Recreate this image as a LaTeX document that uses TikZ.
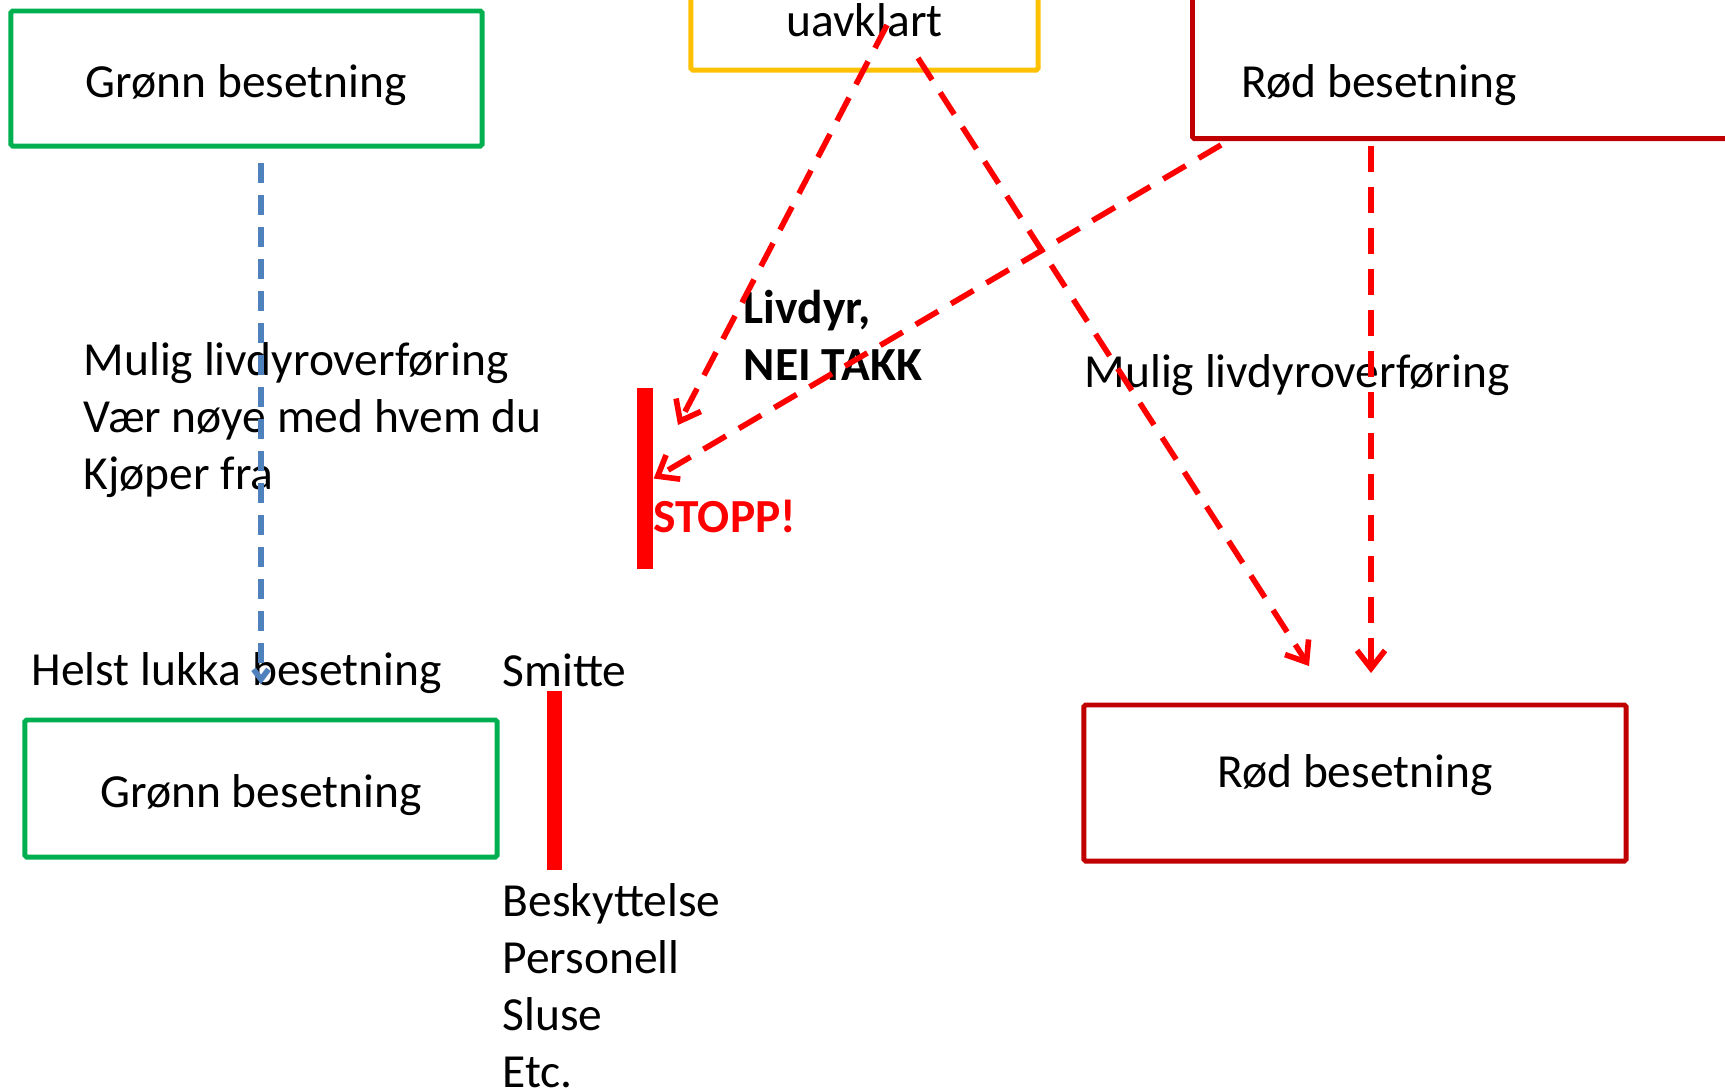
\documentclass[tikz,border=0pt]{standalone}
\usepackage{fontspec}
\setmainfont{Carlito}
\usepackage{tikz}
\usetikzlibrary{arrows.meta}
\usetikzlibrary{positioning}
\definecolor{gronn}{HTML}{00B050}
\definecolor{gul}{HTML}{FFC000}
\definecolor{morkrod}{HTML}{C00000}
\definecolor{rod}{HTML}{FF0000}
\definecolor{blaa}{HTML}{4F81BD}

\begin{document}
\begin{tikzpicture}[x=0.01cm,y=-0.01cm,font=\fontsize{13.5}{16.2}\selectfont,
	box/.style={draw,line width=1.4pt,rounded corners=0.5pt,inner sep=0pt},
	green box/.style={box,draw=gronn,minimum width=4.71cm,minimum height=1.35cm,
		text height=0.375cm,text depth=0pt},
	red box/.style={box,draw=morkrod},
	text node/.style={inner sep=0pt,anchor=west,align=left},
	bar/.style={fill=rod,inner sep=0pt,minimum width=0.16cm},
	red arrow/.style={draw=rod,line width=1.6pt,dash pattern=on 0.26cm off 0.15cm,
		-{Straight Barb[length=0.18cm,width=0.28cm]}},
	blue arrow/.style={draw=blaa,line width=1.6pt,dash pattern=on 0.2cm off 0.12cm,
		-{Straight Barb[length=0.1cm,width=0.15cm]}}]

	\clip (0,0) rectangle (1725,1090);

	% besetninger
	\node[green box] (gronnA) at (246.5,78.5) {Grønn besetning};
	\node[box,draw=gul,minimum width=3.47cm,minimum height=1cm] (uavklart) at (864.5,20) {uavklart};
	\node[red box,minimum width=7cm,minimum height=2.5cm,anchor=south west] (rodA) at (1190,141) {};
	\node[text node] (rodAtekst) at (1241,85) {Rød besetning};
	\node[green box,minimum width=4.72cm,minimum height=1.37cm] (gronnB) at (261,788.5) {Grønn besetning};
	\node[red box,minimum width=5.42cm,minimum height=1.56cm,text height=0.25cm,text depth=0.165cm] (rodB) at (1355,783) {Rød besetning};

	% sperrer
	\node[bar,minimum height=1.81cm] (stopp) at (645,478.5) {};
	\node[bar,minimum width=0.15cm,minimum height=1.79cm] (smittebar) at (554,780.5) {};

	\node[text node] (mulig) at (83,420) {Mulig livdyroverføring\\Vær nøye med hvem du\\Kjøper fra};
	\node[text node] (helst) at (31,673) {Helst lukka besetning};
	\node[text node] (smitte) at (502,670) {Smitte};
	\node[text node] (tiltak) at (502,986) {Beskyttelse\\Personell\\Sluse\\Etc.};
	\node[text node,font=\fontsize{13.5}{16.2}\selectfont\bfseries] (livdyr) at (743,335) {Livdyr,\\NEI TAKK};
	\node[text node,text=rod,font=\fontsize{13.5}{16.2}\selectfont\bfseries] (stopptekst) at (653,516) {STOPP!};
	\node[text node] (mulig2) at (1084,375) {Mulig livdyroverføring};

	\coordinate (gulV) at (887,25);
	\coordinate (pilV) at (678,425);
	\coordinate (gulH) at (918,58);
	\coordinate (pilH) at (1309,666);
	\coordinate (rodAV) at (1221,145);
	\coordinate (rodAN) at (1371,146);
	\coordinate (pilN) at (1371,673);
	\coordinate (gronnN) at (261,163);
	\coordinate (pilG) at (261,684);

	\draw[red arrow] (gulV) -- (pilV);
	\draw[red arrow] (gulH) -- (pilH);
	\draw[red arrow] (rodAV) -- (stopp.east);
	\draw[red arrow] (rodAN) -- (pilN);
	\draw[blue arrow] (gronnN) -- (pilG);
\end{tikzpicture}
\end{document}
